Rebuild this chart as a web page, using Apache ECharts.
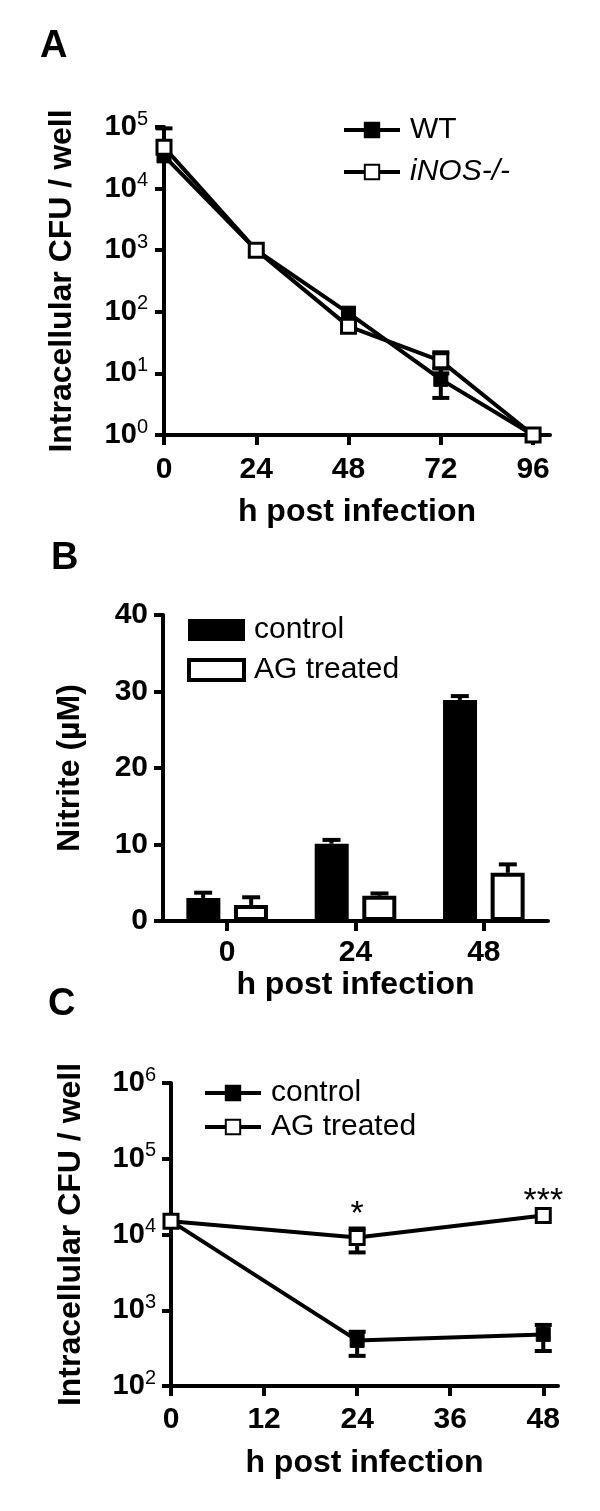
<!DOCTYPE html>
<html>
<head>
<meta charset="utf-8">
<script src="https://cdn.jsdelivr.net/npm/echarts@6/dist/echarts.min.js"></script>
<style>
  html, body { margin: 0; background: #fff; }
  #main { width: 600px; height: 1511px; }
</style>
</head>
<body>
<div id="main"></div>
<script>
// A: CFU per well, WT vs iNOS-/-
const hoursA = [0, 24, 48, 72, 96];
const wtA = [34000, 1000, 95, 8, 1];
const wtLoA = [34000, 1000, 95, 4, 1];
const wtHiA = [34000, 1000, 95, 12, 1];
const inosA = [47000, 1000, 58, 16, 1];
const inosLoA = [47000, 1000, 58, 10, 1];
const inosHiA = [95000, 1000, 58, 22, 1];

// B: nitrite
const catsB = ['0', '24', '48'];
const ctrlB = [3.0, 10.1, 28.9];
const ctrlHiB = [3.7, 10.6, 29.4];
const agB = [2.1, 3.3, 6.3];
const agHiB = [3.1, 3.6, 7.4];

// C: CFU per well, control vs AG treated
const hoursC = [0, 24, 48];
const ctrlC = [15000, 400, 480];
const ctrlLoC = [15000, 250, 290];
const ctrlHiC = [15000, 520, 640];
const agC = [15000, 9100, 17800];
const agLoC = [15000, 5800, 17800];
const agHiC = [15000, 12000, 17800];
const sigC = ['', '*', '***'];

const FONT = 'Arial, "Liberation Sans", sans-serif';
const black = '#000';

const chart = echarts.init(document.getElementById('main'));

// error bars: value [x, mean, lo, hi]
function errorBars(capW, offset) {
  return function (params, api) {
    const x = api.value(0), v = api.value(1), lo = api.value(2), hi = api.value(3);
    const pv = api.coord([x, v]);
    const pl = api.coord([x, lo]);
    const ph = api.coord([x, hi]);
    const cx = pv[0] + offset;
    const style = { stroke: black, lineWidth: 4 };
    const kids = [];
    if (lo < v || hi > v) {
      kids.push({ type: 'line', shape: { x1: cx, y1: pl[1], x2: cx, y2: ph[1] }, style });
    }
    if (hi > v) {
      kids.push({ type: 'line', shape: { x1: cx - capW / 2, y1: ph[1], x2: cx + capW / 2, y2: ph[1] }, style });
    }
    if (lo < v) {
      kids.push({ type: 'line', shape: { x1: cx - capW / 2, y1: pl[1], x2: cx + capW / 2, y2: pl[1] }, style });
    }
    return { type: 'group', children: kids };
  };
}

const pow10 = v => '{b|10}{s|' + Math.round(Math.log10(v)) + '}';
const powRich = {
  b: { fontSize: 29, fontWeight: 'bold', fontFamily: FONT, color: black, lineHeight: 36 },
  s: { fontSize: 20, fontFamily: FONT, color: black, verticalAlign: 'top', lineHeight: 20 }
};

const axisLine = { show: true, onZero: false, lineStyle: { color: black, width: 4 } };
const axisTick = { show: true, length: 9, lineStyle: { color: black, width: 4 } };
const tickLabel = { fontSize: 30, fontWeight: 'bold', fontFamily: FONT, color: black };
const nameStyle = { fontSize: 32, fontWeight: 'bold', fontFamily: FONT, color: black };
const legendText = { fontSize: 30, fontFamily: FONT, color: black, lineHeight: 30, padding: [0, 0, 0, 5] };

const lineSeries = (name, xs, ys, filled, idx) => ({
  name, type: 'line', xAxisIndex: idx, yAxisIndex: idx, z: 3,
  data: xs.map((x, i) => [x, ys[i]]),
  symbol: 'rect', symbolSize: 14,
  lineStyle: { color: black, width: 4 },
  itemStyle: filled
    ? { color: black, borderColor: black, borderWidth: 1 }
    : { color: '#fff', borderColor: black, borderWidth: 3 }
});

const errSeries = (xs, ys, lo, hi, idx, capW, offset) => ({
  type: 'custom', xAxisIndex: idx, yAxisIndex: idx, z: 2,
  renderItem: errorBars(capW, offset),
  data: xs.map((x, i) => [x, ys[i], lo[i], hi[i]])
});

const lineLegend = (names, left, top, gap) => ({
  data: names, orient: 'vertical', left, top, padding: 0,
  itemWidth: 56, itemHeight: 18, itemGap: gap, selectedMode: false,
  lineStyle: { width: 4, color: black },
  textStyle: legendText
});

const legA = lineLegend(['WT', 'iNOS-/-'], 342, 115, 12);
legA.textStyle = Object.assign({}, legendText, { rich: { i: { fontStyle: 'italic', fontSize: 30, fontFamily: FONT, color: black } } });
legA.formatter = n => n === 'iNOS-/-' ? '{i|iNOS-/-}' : n;

const legC = lineLegend(['control (C)', 'AG treated (C)'], 203, 1078, 4);
legC.formatter = n => n.replace(' (C)', '');

chart.setOption({
  animation: false,
  textStyle: { fontFamily: FONT },
  title: [
    { text: 'A', left: 40, top: 28, padding: 0, textStyle: { fontSize: 38, fontWeight: 'bold', fontFamily: FONT, color: black } },
    { text: 'B', left: 51, top: 540, padding: 0, textStyle: { fontSize: 38, fontWeight: 'bold', fontFamily: FONT, color: black } },
    { text: 'C', left: 48, top: 986, padding: 0, textStyle: { fontSize: 38, fontWeight: 'bold', fontFamily: FONT, color: black } }
  ],
  legend: [
    legA,
    {
      data: [
        { name: 'control', icon: 'rect' },
        { name: 'AG treated', icon: 'rect', itemStyle: { borderWidth: 4, borderColor: black, color: '#fff' } }
      ],
      orient: 'vertical', left: 187, top: 615, padding: 0,
      itemWidth: 55, itemHeight: 20, itemGap: 10, selectedMode: false,
      textStyle: legendText
    },
    legC
  ],
  grid: [
    { left: 164, top: 127, width: 386, height: 308, outerBoundsMode: 'none' },
    { left: 163, top: 615, width: 385, height: 306, outerBoundsMode: 'none' },
    { left: 171, top: 1083, width: 387, height: 303, outerBoundsMode: 'none' }
  ],
  xAxis: [
    {
      gridIndex: 0, type: 'value', min: 0, max: 100.4,
      axisLine, splitLine: { show: false },
      axisTick: Object.assign({}, axisTick, { customValues: hoursA, length: 10 }),
      axisLabel: Object.assign({ customValues: hoursA, margin: 20 }, tickLabel),
      name: 'h post infection', nameLocation: 'middle', nameGap: 61, nameTextStyle: nameStyle
    },
    {
      gridIndex: 1, type: 'category', data: catsB,
      axisLine,
      axisTick: Object.assign({}, axisTick, { alignWithLabel: true, length: 10 }),
      axisLabel: Object.assign({ margin: 17 }, tickLabel),
      name: 'h post infection', nameLocation: 'middle', nameGap: 48, nameTextStyle: nameStyle
    },
    {
      gridIndex: 2, type: 'value', min: 0, max: 49.9,
      axisLine, splitLine: { show: false },
      axisTick: Object.assign({}, axisTick, { customValues: [0, 12, 24, 36, 48], length: 10 }),
      axisLabel: Object.assign({ customValues: [0, 12, 24, 36, 48], margin: 19 }, tickLabel),
      name: 'h post infection', nameLocation: 'middle', nameGap: 61, nameTextStyle: nameStyle
    }
  ],
  yAxis: [
    {
      gridIndex: 0, type: 'log', min: 1, max: 100000, splitNumber: 5,
      axisLine, axisTick, splitLine: { show: false },
      axisLabel: { margin: 16, formatter: pow10, rich: powRich },
      name: 'Intracellular CFU / well', nameLocation: 'middle', nameGap: 86, nameTextStyle: nameStyle
    },
    {
      gridIndex: 1, type: 'value', min: 0, max: 40, interval: 10,
      axisLine, axisTick, splitLine: { show: false },
      axisLabel: Object.assign({ margin: 15 }, tickLabel),
      name: 'Nitrite (µM)', nameLocation: 'middle', nameGap: 77, nameTextStyle: nameStyle
    },
    {
      gridIndex: 2, type: 'log', min: 100, max: 1000000, splitNumber: 4,
      axisLine, axisTick, splitLine: { show: false },
      axisLabel: { margin: 15, formatter: pow10, rich: powRich },
      name: 'Intracellular CFU / well', nameLocation: 'middle', nameGap: 84, nameTextStyle: nameStyle
    }
  ],
  series: [
    // A
    errSeries(hoursA, wtA, wtLoA, wtHiA, 0, 17, 0),
    errSeries(hoursA, inosA, inosLoA, inosHiA, 0, 17, 0),
    lineSeries('WT', hoursA, wtA, true, 0),
    lineSeries('iNOS-/-', hoursA, inosA, false, 0),
    // B
    {
      name: 'control', type: 'bar', xAxisIndex: 1, yAxisIndex: 1,
      data: ctrlB, barWidth: 34, barGap: '40%',
      itemStyle: { color: black, borderColor: black, borderWidth: 3 }
    },
    {
      name: 'AG treated', type: 'bar', xAxisIndex: 1, yAxisIndex: 1,
      data: agB, barWidth: 34,
      itemStyle: { color: '#fff', borderColor: black, borderWidth: 4 }
    },
    {
      type: 'custom', xAxisIndex: 1, yAxisIndex: 1, z: 3,
      renderItem: errorBars(18, -24),
      data: ctrlB.map((v, i) => [i, v, v, ctrlHiB[i]])
    },
    {
      type: 'custom', xAxisIndex: 1, yAxisIndex: 1, z: 3,
      renderItem: errorBars(18, 24),
      data: agB.map((v, i) => [i, v, v, agHiB[i]])
    },
    // C
    errSeries(hoursC, ctrlC, ctrlLoC, ctrlHiC, 2, 17, 0),
    errSeries(hoursC, agC, agLoC, agHiC, 2, 17, 0),
    lineSeries('control (C)', hoursC, ctrlC, true, 2),
    lineSeries('AG treated (C)', hoursC, agC, false, 2),
    {
      type: 'custom', xAxisIndex: 2, yAxisIndex: 2, z: 4,
      data: hoursC.map((x, i) => [x, agHiC[i]]),
      renderItem: function (params, api) {
        const p = api.coord([api.value(0), api.value(1)]);
        return {
          type: 'text', x: p[0], y: p[1] + 3,
          style: { text: sigC[params.dataIndex], fontSize: 34, fontFamily: FONT, fill: black, align: 'center', verticalAlign: 'bottom' }
        };
      }
    }
  ]
});
</script>
</body>
</html>
